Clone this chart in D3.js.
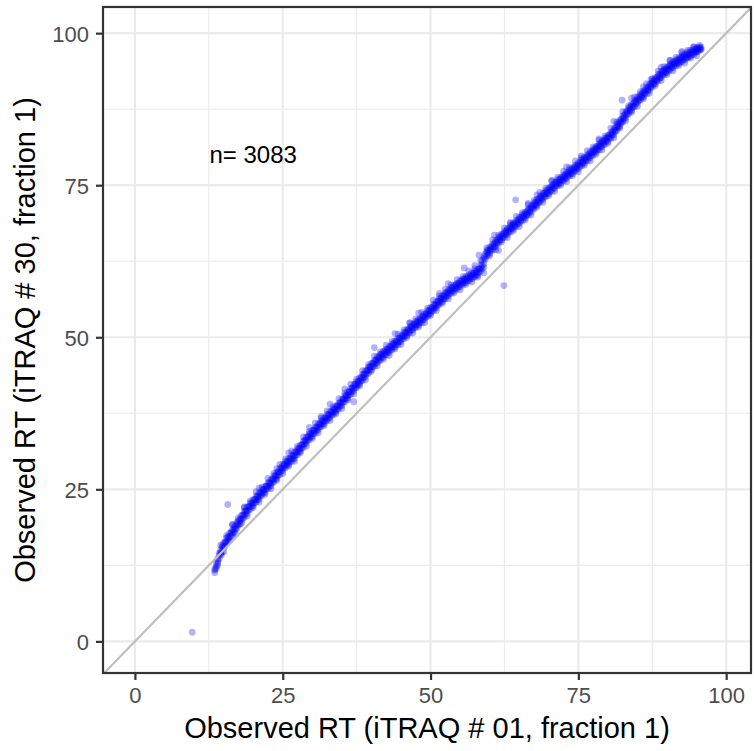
<!DOCTYPE html>
<html><head><meta charset="utf-8">
<script src="https://cdn.jsdelivr.net/npm/d3@7/dist/d3.min.js"></script>
<style>body{margin:0;background:#fff}svg{display:block}</style>
</head><body>
<svg id="chart" width="754" height="751"></svg>
<script>
// ---- data ----
const xTicks = [0, 25, 50, 75, 100];
const yTicks = [0, 25, 50, 75, 100];
const xMinor = [12.5, 37.5, 62.5, 87.5];
const yMinor = [12.5, 37.5, 62.5, 87.5];
const xTitle = "Observed RT (iTRAQ # 01, fraction 1)";
const yTitle = "Observed RT (iTRAQ # 30, fraction 1)";
const nLabel = "n= 3083";
const nLabelPos = [20, 80];

// main band: three observations read at each x position
const bandX = [
13.5,13.75,14,14.25,14.5,14.75,15,15.25,15.5,15.75,16,16.25,16.5,16.75,17,17.25,17.5,17.75,18,18.25,
18.5,18.75,19,19.25,19.5,19.75,20,20.25,20.5,20.75,21,21.25,21.5,21.75,22,22.25,22.5,22.75,23,23.25,
23.5,23.75,24,24.25,24.5,24.75,25,25.25,25.5,25.75,26,26.25,26.5,26.75,27,27.25,27.5,27.75,28,28.25,
28.5,28.75,29,29.25,29.5,29.75,30,30.25,30.5,30.75,31,31.25,31.5,31.75,32,32.25,32.5,32.75,33,33.25,
33.5,33.75,34,34.25,34.5,34.75,35,35.25,35.5,35.75,36,36.25,36.5,36.75,37,37.25,37.5,37.75,38,38.25,
38.5,38.75,39,39.25,39.5,39.75,40,40.25,40.5,40.75,41,41.25,41.5,41.75,42,42.25,42.5,42.75,43,43.25,
43.5,43.75,44,44.25,44.5,44.75,45,45.25,45.5,45.75,46,46.25,46.5,46.75,47,47.25,47.5,47.75,48,48.25,
48.5,48.75,49,49.25,49.5,49.75,50,50.25,50.5,50.75,51,51.25,51.5,51.75,52,52.25,52.5,52.75,53,53.25,
53.5,53.75,54,54.25,54.5,54.75,55,55.25,55.5,55.75,56,56.25,56.5,56.75,57,57.25,57.5,57.75,58,58.25,
58.5,58.75,59,59.25,59.5,59.75,60,60.25,60.5,60.75,61,61.25,61.5,61.75,62,62.25,62.5,62.75,63,63.25,
63.5,63.75,64,64.25,64.5,64.75,65,65.25,65.5,65.75,66,66.25,66.5,66.75,67,67.25,67.5,67.75,68,68.25,
68.5,68.75,69,69.25,69.5,69.75,70,70.25,70.5,70.75,71,71.25,71.5,71.75,72,72.25,72.5,72.75,73,73.25,
73.5,73.75,74,74.25,74.5,74.75,75,75.25,75.5,75.75,76,76.25,76.5,76.75,77,77.25,77.5,77.75,78,78.25,
78.5,78.75,79,79.25,79.5,79.75,80,80.25,80.5,80.75,81,81.25,81.5,81.75,82,82.25,82.5,82.75,83,83.25,
83.5,83.75,84,84.25,84.5,84.75,85,85.25,85.5,85.75,86,86.25,86.5,86.75,87,87.25,87.5,87.75,88,88.25,
88.5,88.75,89,89.25,89.5,89.75,90,90.25,90.5,90.75,91,91.25,91.5,91.75,92,92.25,92.5,92.75,93,93.25,
93.5,93.75,94,94.25,94.5,94.75,95,95.25,95.5,95.75];
const bandYUpper = [
11.9,12.8,13.6,14.5,15.0,15.7,16.1,16.4,17.0,17.2,17.8,18.0,18.3,18.8,19.0,19.6,19.8,20.1,20.7,20.8,
21.4,21.5,22.1,22.2,22.7,22.8,23.3,23.4,23.9,23.9,24.4,24.5,25.0,25.0,25.5,25.6,26.1,26.1,26.6,26.7,
27.2,27.3,27.8,27.9,28.4,28.6,29.1,29.1,29.6,29.6,30.1,30.1,30.6,30.6,31.1,31.2,31.7,31.8,32.3,32.4,
32.9,33.1,33.6,33.7,34.1,34.2,34.7,34.8,35.2,35.3,35.8,35.8,36.3,36.3,36.8,36.8,37.3,37.3,37.8,37.8,
38.2,38.3,38.7,38.8,39.2,39.3,39.8,39.9,40.4,40.5,41.0,41.1,41.6,41.7,42.2,42.3,42.7,42.8,43.3,43.4,
43.9,44.0,44.5,44.6,45.1,45.2,45.7,45.8,46.2,46.3,46.8,46.8,47.2,47.3,47.7,47.7,48.1,48.1,48.5,48.5,
48.9,49.0,49.4,49.4,49.8,49.9,50.3,50.3,50.8,50.8,51.3,51.3,51.7,51.8,52.2,52.2,52.6,52.6,53.0,53.0,
53.4,53.5,53.9,53.9,54.4,54.4,54.9,54.9,55.4,55.4,55.9,55.9,56.4,56.4,56.9,56.9,57.3,57.4,57.8,57.8,
58.2,58.2,58.6,58.6,58.9,58.9,59.3,59.3,59.6,59.6,60.0,59.9,60.3,60.2,60.6,60.5,60.9,60.8,61.2,61.3,
61.9,62.6,63.3,63.7,64.2,64.4,64.8,64.9,65.3,65.4,65.9,66.0,66.4,66.5,67.0,67.0,67.4,67.5,67.9,67.9,
68.3,68.4,68.8,68.8,69.2,69.3,69.7,69.7,70.1,70.2,70.6,70.6,71.1,71.1,71.6,71.7,72.1,72.2,72.7,72.7,
73.2,73.2,73.7,73.7,74.1,74.2,74.6,74.6,75.0,75.1,75.5,75.5,75.9,75.9,76.3,76.3,76.7,76.7,77.1,77.1,
77.5,77.5,77.9,77.9,78.3,78.3,78.7,78.7,79.1,79.2,79.6,79.6,80.0,80.1,80.5,80.5,80.9,81.0,81.4,81.4,
81.8,81.9,82.3,82.3,82.7,82.8,83.2,83.3,83.7,83.8,84.3,84.4,85.0,85.1,85.7,85.8,86.4,86.5,87.1,87.2,
87.7,87.8,88.3,88.4,88.9,89.0,89.5,89.5,90.0,90.0,90.5,90.6,91.0,91.1,91.6,91.7,92.1,92.2,92.7,92.7,
93.2,93.2,93.7,93.7,94.1,94.1,94.5,94.5,94.9,94.9,95.3,95.3,95.6,95.6,96.0,95.9,96.3,96.2,96.6,96.5,
96.9,96.8,97.2,97.1,97.3,97.4,97.6,97.6,97.7,97.7];
const bandYMid = [
11.7,12.3,13.2,14.1,14.6,15.4,15.6,16.3,16.4,17.1,17.2,17.8,17.9,18.5,18.6,19.3,19.3,20.0,20.1,20.7,
20.8,21.4,21.5,22.1,22.1,22.7,22.7,23.3,23.3,23.8,23.8,24.4,24.4,24.9,24.9,25.5,25.5,26.0,26.0,26.6,
26.6,27.2,27.2,27.8,27.8,28.5,28.5,29.0,29.0,29.5,29.5,30.0,30.0,30.5,30.5,31.1,31.1,31.7,31.7,32.3,
32.3,33.0,33.0,33.6,33.5,34.1,34.1,34.7,34.6,35.2,35.2,35.7,35.7,36.2,36.2,36.7,36.7,37.2,37.2,37.7,
37.6,38.2,38.1,38.7,38.6,39.2,39.2,39.8,39.8,40.4,40.4,41.0,41.0,41.6,41.6,42.2,42.1,42.7,42.7,43.3,
43.3,43.9,43.9,44.5,44.5,45.1,45.1,45.7,45.6,46.2,46.2,46.7,46.6,47.2,47.1,47.6,47.5,48.0,47.9,48.4,
48.3,48.9,48.8,49.3,49.2,49.8,49.7,50.2,50.2,50.7,50.7,51.2,51.1,51.7,51.6,52.1,52.0,52.5,52.4,52.9,
52.8,53.4,53.3,53.8,53.8,54.3,54.3,54.8,54.8,55.3,55.3,55.8,55.8,56.3,56.3,56.8,56.7,57.3,57.2,57.7,
57.6,58.1,58.0,58.5,58.3,58.8,58.7,59.2,59.0,59.5,59.4,59.8,59.7,60.1,60.0,60.4,60.3,60.7,60.6,61.2,
61.5,61.8,62.9,63.1,64.0,63.9,64.4,64.5,65.0,65.0,65.6,65.6,66.1,66.1,66.7,66.6,67.1,67.1,67.6,67.5,
68.0,68.0,68.5,68.4,68.9,68.9,69.4,69.3,69.8,69.8,70.3,70.2,70.8,70.7,71.3,71.3,71.8,71.8,72.4,72.3,
72.9,72.8,73.4,73.3,73.8,73.8,74.3,74.2,74.7,74.7,75.2,75.1,75.6,75.5,76.0,75.9,76.4,76.3,76.8,76.7,
77.2,77.1,77.6,77.5,78.0,77.9,78.4,78.3,78.8,78.8,79.3,79.2,79.7,79.7,80.2,80.1,80.6,80.6,81.1,81.0,
81.5,81.5,82.0,81.9,82.4,82.4,82.9,82.9,83.4,83.4,84.0,84.0,84.7,84.7,85.4,85.4,86.1,86.1,86.8,86.8,
87.4,87.4,88.0,88.0,88.6,88.6,89.2,89.1,89.7,89.6,90.2,90.2,90.7,90.7,91.3,91.3,91.8,91.8,92.4,92.3,
92.9,92.8,93.4,93.3,93.8,93.7,94.2,94.1,94.6,94.5,95.0,94.9,95.3,95.2,95.7,95.5,96.0,95.8,96.3,96.1,
96.5,96.4,96.8,96.7,97.0,97.0,97.3,97.2,97.5,97.4];
const bandYLower = [
11.3,12.0,12.9,13.6,14.4,14.7,15.4,15.6,16.1,16.4,16.9,17.3,17.5,17.9,18.4,18.6,19.1,19.3,19.8,20.2,
20.4,20.9,21.1,21.6,21.7,22.2,22.3,22.8,22.9,23.3,23.4,23.9,24.0,24.4,24.5,25.0,25.1,25.5,25.6,26.1,
26.2,26.7,26.8,27.3,27.4,28.0,28.1,28.5,28.6,29.0,29.1,29.5,29.6,30.0,30.1,30.6,30.7,31.2,31.3,31.8,
31.9,32.5,32.6,33.1,33.1,33.6,33.7,34.2,34.2,34.7,34.8,35.2,35.3,35.7,35.8,36.2,36.3,36.7,36.8,37.2,
37.2,37.7,37.7,38.2,38.2,38.7,38.8,39.3,39.4,39.9,40.0,40.5,40.6,41.1,41.2,41.7,41.7,42.2,42.3,42.8,
42.9,43.4,43.5,44.0,44.1,44.6,44.7,45.2,45.2,45.7,45.8,46.2,46.2,46.7,46.7,47.1,47.1,47.5,47.5,47.9,
47.9,48.4,48.4,48.8,48.8,49.3,49.3,49.7,49.8,50.2,50.3,50.7,50.7,51.2,51.2,51.6,51.6,52.0,52.0,52.4,
52.4,52.9,52.9,53.3,53.4,53.8,53.9,54.3,54.4,54.8,54.9,55.3,55.4,55.8,55.9,56.3,56.3,56.8,56.8,57.2,
57.2,57.6,57.6,58.0,57.9,58.3,58.3,58.7,58.6,59.0,59.0,59.3,59.3,59.6,59.6,59.9,59.9,60.2,60.2,60.7,
60.9,61.3,62.1,62.8,63.4,63.6,63.8,64.3,64.3,64.8,64.9,65.4,65.4,65.9,66.0,66.4,66.4,66.9,66.9,67.3,
67.3,67.8,67.8,68.2,68.2,68.7,68.7,69.1,69.1,69.6,69.6,70.0,70.1,70.5,70.6,71.1,71.1,71.6,71.7,72.1,
72.2,72.6,72.7,73.1,73.1,73.6,73.6,74.0,74.0,74.5,74.5,74.9,74.9,75.3,75.3,75.7,75.7,76.1,76.1,76.5,
76.5,76.9,76.9,77.3,77.3,77.7,77.7,78.1,78.1,78.6,78.6,79.0,79.0,79.5,79.5,79.9,79.9,80.4,80.4,80.8,
80.8,81.3,81.3,81.7,81.7,82.2,82.2,82.7,82.7,83.2,83.3,83.8,84.0,84.5,84.7,85.2,85.4,85.9,86.1,86.6,
86.7,87.2,87.3,87.8,87.9,88.4,88.5,88.9,89.0,89.4,89.5,90.0,90.0,90.5,90.6,91.1,91.1,91.6,91.7,92.1,
92.2,92.6,92.7,93.1,93.1,93.5,93.5,93.9,93.9,94.3,94.3,94.7,94.6,95.0,95.0,95.3,95.3,95.6,95.6,95.9,
95.9,96.2,96.2,96.5,96.5,96.8,96.9,97.0,97.2,97.3];
// sparser observations on the upper and lower fringe of the band
const edgeUpX = [14.5,15.5,16.5,17.5,18.5,19.5,20.5,21.5,22.5,23.5,24.5,25.5,26.5,27.5,28.5,29.5,30.5,31.5,32.5,33.5,34.5,35.5,36.5,37.5,38.5,39.5,40.5,41.5,42.5,43.5,44.5,45.5,46.5,47.5,48.5,49.5,50.5,51.5,52.5,53.5,54.5,55.5,56.5,57.5,58.5,59.5,60.5,61.5,62.5,63.5,64.5,65.5,66.5,67.5,68.5,69.5,70.5,71.5,72.5,73.5,74.5,75.5,76.5,77.5,78.5,79.5,80.5,81.5,82.5,83.5,84.5,85.5,86.5,87.5,88.5,89.5,90.5,91.5,92.5,93.5,94.5,95.5];
const edgeUpY = [15.8,17.4,19.2,20.3,22.1,23.1,24.6,25.4,26.8,27.6,29.1,30.0,31.3,32.1,33.6,34.5,35.9,36.7,37.9,38.6,39.9,40.8,42.3,43.1,44.5,45.5,46.9,47.6,48.7,49.3,50.5,51.2,52.4,53.0,54.1,54.8,56.1,56.8,57.9,58.6,59.5,60.0,60.9,61.3,62.6,64.7,66.0,66.8,68.0,68.7,69.9,70.5,71.8,72.5,73.8,74.5,75.7,76.3,77.3,77.9,79.0,79.5,80.7,81.3,82.4,83.1,84.4,85.4,87.1,88.1,89.5,90.4,91.7,92.5,93.8,94.5,95.5,96.0,96.8,97.2,97.7,98.0];
const edgeLoX = [14,15,16,17,18,19,20,21,22,23,24,25,26,27,28,29,30,31,32,33,34,35,36,37,38,39,40,41,42,43,44,45,46,47,48,49,50,51,52,53,54,55,56,57,58,59,60,61,62,63,64,65,66,67,68,69,70,71,72,73,74,75,76,77,78,79,80,81,82,83,84,85,86,87,88,89,90,91,92,93,94,95];
const edgeLoY = [12.5,14.7,16.5,17.7,19.4,20.6,22.0,22.9,24.2,25.1,26.5,27.6,28.8,29.6,31.0,32.1,33.4,34.3,35.5,36.3,37.4,38.3,39.7,40.7,42.0,43.0,44.4,45.3,46.4,47.0,48.1,48.8,50.0,50.7,51.7,52.4,53.6,54.4,55.6,56.3,57.3,57.8,58.7,59.1,59.9,61.5,63.4,64.4,65.7,66.4,67.5,68.2,69.3,70.1,71.4,72.2,73.3,74.0,75.0,75.6,76.6,77.2,78.3,79.0,80.1,80.8,81.9,82.8,84.4,85.6,87.0,88.0,89.2,90.1,91.4,92.2,93.2,93.8,94.7,95.1,95.9,96.3];
// scattered points off the main band
const outX = [9.7,15.7,62.4,64.4,82.4,87.3,37.0,40.5,55.7,26.0,29.5,33.0,44.0,48.0,60.8,66.5,70.5,78.5,81.0,84.0,90.5,92.5,21.0,18.5,16.5,59.0,58.2,57.5,61.5,35.5,53.0,73.0,14.6,24.0,31.5,46.5,51.5,63.5,68.0,75.5,86.0,89.0,94.5];
const outY = [1.5,22.5,58.5,72.6,89.0,92.4,39.4,48.3,61.4,31.0,35.2,39.0,50.6,54.0,66.8,72.0,75.8,82.6,85.5,89.3,95.5,97.0,25.2,22.0,19.2,60.6,63.5,61.8,64.3,41.5,58.8,78.0,14.2,28.4,37.0,52.3,57.2,68.9,73.4,79.8,91.2,94.4,97.8];

// ---- build ----
const points = [];
const nb = Math.min(bandX.length, bandYUpper.length, bandYMid.length, bandYLower.length);
for (let i = 0; i < nb; i++) {
  points.push([bandX[i], bandYUpper[i]]);
  points.push([bandX[i], bandYMid[i]]);
  points.push([bandX[i], bandYLower[i]]);
}
for (let i = 0; i < Math.min(edgeUpX.length, edgeUpY.length); i++) points.push([edgeUpX[i], edgeUpY[i]]);
for (let i = 0; i < Math.min(edgeLoX.length, edgeLoY.length); i++) points.push([edgeLoX[i], edgeLoY[i]]);
for (let i = 0; i < Math.min(outX.length, outY.length); i++) points.push([outX[i], outY[i]]);

const P = {l: 103, r: 751, t: 7, b: 673};
const FONT = "'Liberation Sans', Arial, Helvetica, sans-serif";
const svg = d3.select("#chart");
svg.append("rect").attr("width", 754).attr("height", 751).attr("fill", "#fff");

const x = d3.scaleLinear().domain([-5.4, 104.2]).range([P.l, P.r]);
const y = d3.scaleLinear().domain([-5.2, 104.3]).range([P.b, P.t]);

svg.append("defs").append("clipPath").attr("id", "clip")
  .append("rect").attr("x", P.l).attr("y", P.t).attr("width", P.r - P.l).attr("height", P.b - P.t);

const grid = svg.append("g");
grid.selectAll(".vmin").data(xMinor).join("line")
  .attr("x1", d => x(d)).attr("x2", d => x(d)).attr("y1", P.t).attr("y2", P.b)
  .attr("stroke", "#EBEBEB").attr("stroke-width", 1.1);
grid.selectAll(".hmin").data(yMinor).join("line")
  .attr("y1", d => y(d)).attr("y2", d => y(d)).attr("x1", P.l).attr("x2", P.r)
  .attr("stroke", "#EBEBEB").attr("stroke-width", 1.1);
grid.selectAll(".vmaj").data(xTicks).join("line")
  .attr("x1", d => x(d)).attr("x2", d => x(d)).attr("y1", P.t).attr("y2", P.b)
  .attr("stroke", "#EBEBEB").attr("stroke-width", 2.2);
grid.selectAll(".hmaj").data(yTicks).join("line")
  .attr("y1", d => y(d)).attr("y2", d => y(d)).attr("x1", P.l).attr("x2", P.r)
  .attr("stroke", "#EBEBEB").attr("stroke-width", 2.2);

const plot = svg.append("g").attr("clip-path", "url(#clip)");
plot.selectAll("circle").data(points).join("circle")
  .attr("cx", d => x(d[0])).attr("cy", d => y(d[1])).attr("r", 3.4)
  .attr("fill", "#0000FF").attr("fill-opacity", 0.3);

plot.append("line")
  .attr("x1", x(-10)).attr("y1", y(-10)).attr("x2", x(110)).attr("y2", y(110))
  .attr("stroke", "#BEBEBE").attr("stroke-width", 2.2);

plot.append("text").attr("x", x(nLabelPos[0])).attr("y", y(nLabelPos[1])).attr("dy", "0.35em")
  .attr("text-anchor", "middle").attr("font-family", FONT).attr("font-size", 24).attr("fill", "#000")
  .text(nLabel);

// axes
const xAxis = svg.append("g").attr("transform", `translate(0,${P.b})`)
  .call(d3.axisBottom(x).tickValues(xTicks).tickSize(7).tickFormat(d3.format("d")));
const yAxis = svg.append("g").attr("transform", `translate(${P.l},0)`)
  .call(d3.axisLeft(y).tickValues(yTicks).tickSize(7).tickFormat(d3.format("d")));
[xAxis, yAxis].forEach(a => {
  a.select(".domain").remove();
  a.selectAll(".tick line").attr("stroke", "#333333").attr("stroke-width", 2.2);
  a.selectAll(".tick text").attr("fill", "#4D4D4D").attr("font-size", 22).attr("font-family", FONT);
});
xAxis.selectAll(".tick text").attr("y", 30).attr("dy", 0);
yAxis.selectAll(".tick text").attr("x", -14).attr("dy", "0.36em");

// panel border
svg.append("rect").attr("x", P.l).attr("y", P.t).attr("width", P.r - P.l).attr("height", P.b - P.t)
  .attr("fill", "none").attr("stroke", "#333333").attr("stroke-width", 2.2);

// titles
svg.append("text").attr("x", (P.l + P.r) / 2).attr("y", 738).attr("text-anchor", "middle")
  .attr("font-family", FONT).attr("font-size", 29).attr("fill", "#000").text(xTitle);
svg.append("text").attr("transform", `translate(35,${(P.t + P.b) / 2}) rotate(-90)`).attr("text-anchor", "middle")
  .attr("font-family", FONT).attr("font-size", 29).attr("fill", "#000").text(yTitle);
</script>
</body></html>
